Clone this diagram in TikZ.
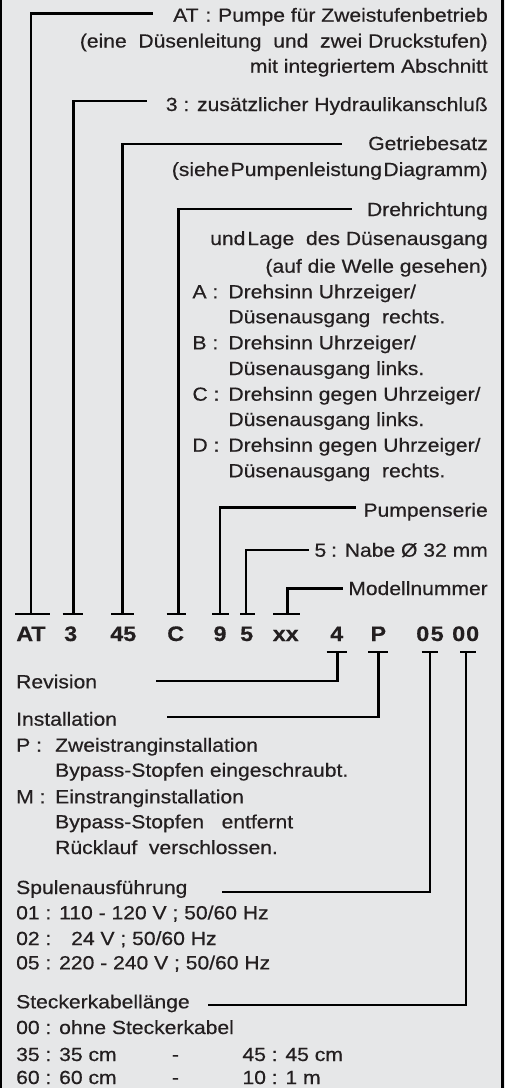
\documentclass[tikz,border=0pt]{standalone}
\usepackage{fontspec}
\setmainfont{Liberation Sans}[FakeStretch=1.11,FakeBold=0.5]
\definecolor{bg}{HTML}{E6E7E8}
\definecolor{ink}{HTML}{231F20}
\begin{document}
\begin{tikzpicture}[x=1pt,y=-1pt,
 txt/.style={inner sep=0pt, text=ink, font=\fontsize{19}{19}\selectfont},
 rt/.style={txt, anchor=base east},
 lt/.style={txt, anchor=base west},
 code/.style={inner sep=0pt, text=ink, font=\fontsize{21}{21}\selectfont\bfseries, anchor=base},
 lead/.style={line width=2.4pt, draw=black, line join=miter},
 tbar/.style={line width=2.6pt, draw=black}]
\fill[bg] (0,0) rectangle (505,1088);
\useasboundingbox (0,0) rectangle (505,1088);
\draw[line width=2.5pt] (1.2,0) -- (1.2,1088);
\draw[line width=3pt] (502.5,0) -- (502.5,1088);

% code letters
\node[code] (cAT) at (31,641) {AT};
\node[code] (c3) at (70.7,641) {3};
\node[code] (c45) at (123.3,641) {45};
\node[code] (cC) at (175.7,641) {C};
\node[code] (c9) at (220,641) {9};
\node[code] (c5) at (246.7,641) {5};
\node[code] (cxx) at (285.7,641) {xx};
\node[code] (c4) at (336.7,641) {4};
\node[code] (cP) at (378.3,641) {P};
\node[code] (c05) at (430,641) {0\hspace{1.5pt}5};
\node[code] (c00) at (465.7,641) {0\hspace{1pt}0};

% upper T bars
\coordinate (tAT) at (30.7,614);
\coordinate (t3) at (73.3,614);
\coordinate (t45) at (122.3,614);
\coordinate (tC) at (178.3,614);
\coordinate (t9) at (220,614);
\coordinate (t5) at (246,614);
\coordinate (txx) at (287.3,614);
\draw[tbar] (15,614) -- (50,614);
\draw[tbar] (62.7,614) -- (83.3,614);
\draw[tbar] (111,614) -- (134.3,614);
\draw[tbar] (166.7,614) -- (186,614);
\draw[tbar] (212,614) -- (229.3,614);
\draw[tbar] (240,614) -- (255,614);
\draw[tbar] (273.3,614) -- (300,614);

% lower T bars
\coordinate (t4) at (337.3,652);
\coordinate (tP) at (378.3,652);
\coordinate (t05) at (430,652);
\coordinate (t00) at (466,652);
\draw[tbar] (326.7,652) -- (346.7,652);
\draw[tbar] (368.3,652) -- (388.3,652);
\draw[tbar] (421.7,652) -- (438.3,652);
\draw[tbar] (460,652) -- (476,652);

% leader ends
\coordinate (eAT) at (153.3,13.3);
\coordinate (e3) at (146.7,101);
\coordinate (e45) at (341.7,144);
\coordinate (eC) at (351.7,209);
\coordinate (e9) at (356,507.3);
\coordinate (e5) at (309,550);
\coordinate (exx) at (342.7,588.3);
\coordinate (eRev) at (156,680.7);
\coordinate (eInst) at (166.7,716.7);
\coordinate (eSp) at (221.7,891.7);
\coordinate (eSt) at (208.3,1005);

\draw[lead] (tAT) |- (eAT);
\draw[lead] (t3) |- (e3);
\draw[lead] (t45) |- (e45);
\draw[lead] (tC) |- (eC);
\draw[lead] (t9) |- (e9);
\draw[lead] (t5) |- (e5);
\draw[lead] (txx) |- (exx);
\draw[lead] (t4) |- (eRev);
\draw[lead] (tP) |- (eInst);
\draw[lead] (t05) |- (eSp);
\draw[lead] (t00) |- (eSt);

% upper texts
\node[rt] (lAT1) at (488,21.7) {AT\hspace{1pt} :\hspace{1pt} Pumpe\ für Zweistufenbetrieb};
\node[rt] (lAT2) at (488,47.5) {(eine\ \ Düsenleitung\ \ und\ \ zwei Druckstufen)};
\node[rt] (lAT3) at (488,72.7) {mit integriertem Abschnitt};
\node[rt] (l3) at (488,111) {3 : zusätzlicher Hydraulikanschluß};
\node[rt] (l45a) at (488,150) {Getriebesatz};
\node[rt] (l45b) at (488,176) {(siehe\hspace{1.5pt}Pumpenleistung\hspace{1.5pt}Diagramm)};
\node[rt] (lC1) at (488,216) {Drehrichtung};
\node[rt] (lC2) at (488,245) {und\hspace{2pt}Lage\ \ des Düsenausgang};
\node[rt] (lC3) at (488,272.7) {(auf die Welle gesehen)};
\node[lt] (kA) at (192.3,298.3) {A :};
\node[lt] (tA1) at (228.3,298.3) {Drehsinn Uhrzeiger/};
\node[lt] (tA2) at (228.3,323.3) {Düsenausgang\ \ rechts.};
\node[lt] (kB) at (192.3,349.3) {B :};
\node[lt] (tB1) at (228.3,349.3) {Drehsinn Uhrzeiger/};
\node[lt] (tB2) at (228.3,375) {Düsenausgang links.};
\node[lt] (kC) at (192.3,400.7) {C :};
\node[lt] (tC1) at (228.3,400.7) {Drehsinn gegen Uhrzeiger/};
\node[lt] (tC2) at (228.3,426) {Düsenausgang links.};
\node[lt] (kD) at (192.3,451.7) {D :};
\node[lt] (tD1) at (228.3,451.7) {Drehsinn gegen Uhrzeiger/};
\node[lt] (tD2) at (228.3,477.3) {Düsenausgang\ \ rechts.};
\node[rt] (l9) at (488,516.7) {Pumpenserie};
\node[rt] (l5) at (488,556.7) {5\hspace{-1pt} : Nabe Ø 32 mm};
\node[rt] (lxx) at (488,595) {Modellnummer};

% lower texts
\node[lt] (lRev) at (16,688.3) {Revision};
\node[lt] (lInst) at (16,725.7) {Installation};
\node[lt] (kP) at (16,751.7) {P :};
\node[lt] (tP1) at (55,751.7) {Zweistranginstallation};
\node[lt] (tP2) at (55,776.7) {Bypass-Stopfen eingeschraubt.};
\node[lt] (kM) at (16,803.3) {M :};
\node[lt] (tM1) at (55,803.3) {Einstranginstallation};
\node[lt] (tM2) at (55,828.3) {Bypass-Stopfen\ \ \ entfernt};
\node[lt] (tM3) at (55,854) {Rücklauf\ \ verschlossen.};
\node[lt] (lSp) at (16,894) {Spulenausführung};
\node[lt] (s01) at (16,919.3) {01 : 110 - 120 V ; 50/60 Hz};
\node[lt] (s02a) at (16,945) {02 :};
\node[lt] (s02b) at (71,945) {24 V ; 50/60 Hz};
\node[lt] (s05) at (16,969.3) {05 : 220 - 240 V ; 50/60 Hz};
\node[lt] (lSt) at (16,1008.3) {Steckerkabellänge};
\node[lt] (k00) at (16,1034) {00 : ohne Steckerkabel};
\node[lt] (k35) at (16,1061) {35 : 35 cm};
\node[lt] (d1) at (171.7,1061) {-};
\node[lt] (k45) at (242.3,1061) {45 : 45 cm};
\node[lt] (k60) at (16,1084) {60 : 60 cm};
\node[lt] (d2) at (171.7,1084) {-};
\node[lt] (k10) at (242.3,1084) {10 : 1 m};
\end{tikzpicture}
\end{document}
